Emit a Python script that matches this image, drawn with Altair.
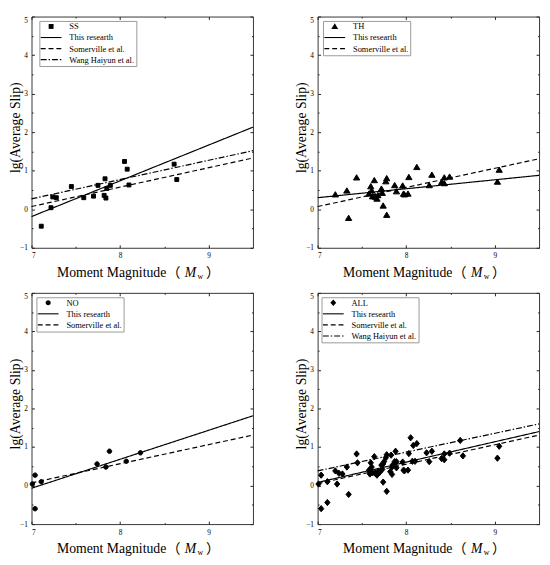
import math
import altair as alt
import pandas as pd

# ---------------- data ----------------
ss_x = [7.11, 7.22, 7.24, 7.28, 7.45, 7.59, 7.70, 7.75, 7.83, 7.82, 7.84, 7.85, 7.89, 8.05, 8.08, 8.10, 8.61, 8.64]
ss_y = [-0.44, 0.04, 0.32, 0.30, 0.59, 0.30, 0.34, 0.62, 0.79, 0.36, 0.29, 0.54, 0.62, 1.24, 1.04, 0.63, 1.17, 0.77]

th_x = [7.20, 7.33, 7.35, 7.44, 7.60, 7.61, 7.58, 7.62, 7.65, 7.67, 7.68, 7.64, 7.72, 7.73, 7.74, 7.77, 7.78,
        7.78, 7.87, 7.89, 7.96, 7.97, 7.98, 8.02, 8.03, 8.12, 8.26, 8.29, 8.40, 8.43, 8.43, 8.49, 9.05, 9.03]
th_y = [0.38, 0.48, -0.23, 0.82, 0.59, 0.48, 0.40, 0.33, 0.32, 0.27, 0.36, 0.75, 0.53, 0.42, 0.09, 0.72, 0.80,
        -0.15, 0.62, 0.46, 0.61, 0.40, 0.38, 0.40, 0.83, 1.09, 0.62, 0.89, 0.70, 0.82, 0.67, 0.84, 1.02, 0.71]

no_x = [7.01, 7.04, 7.04, 7.11, 7.74, 7.84, 7.88, 8.07, 8.23]
no_y = [0.04, 0.27, -0.60, 0.10, 0.56, 0.48, 0.89, 0.63, 0.85]

all_x = ss_x + th_x + no_x
all_y = ss_y + th_y + no_y

line_x = [7.0, 9.5]
# fitted lines: value at Mw = 7.0 and at Mw = 9.5
ss_lines = {"This researth": [-0.19, 2.13], "Somerville et al.": [0.07, 1.33], "Wang Haiyun et al.": [0.27, 1.52]}
th_lines = {"This researth": [0.30, 0.88], "Somerville et al.": [0.07, 1.31]}
no_lines = {"This researth": [-0.07, 1.81], "Somerville et al.": [0.07, 1.31]}
all_lines = {"This researth": [0.08, 1.40], "Somerville et al.": [0.05, 1.31], "Wang Haiyun et al.": [0.38, 1.60]}

x_major = [7, 8, 9]
x_minor = [7.5, 8.5]
y_major = [-1, 0, 1, 2, 3, 4, 5]
y_minor = [-0.5, 0.5, 1.5, 2.5, 3.5, 4.5]

# ---------------- styling ----------------
FONT = "Liberation Serif"
CJK = "Noto Sans CJK SC"
W, H = 226, 236

# marker paths for the plotted points (mark size 400 -> 1 unit = 10 px)
SHAPES = {
    "square": "M-0.2,-0.2H0.2V0.2H-0.2Z",
    "triangle": "M0,-0.3L0.32,0.24L-0.32,0.24Z",
    "circle": "M0.23,0A0.23,0.23,0,1,1,-0.23,0A0.23,0.23,0,1,1,0.23,0Z",
    "diamond": "M0,-0.32L0.27,0L0,0.32L-0.27,0Z",
}

# legend glyphs, drawn as filled paths (legend symbol size 60)
LEG_SIZE = 60
R = math.sqrt(LEG_SIZE) / 2.0  # px per path unit


def u(v):
    return round(v / R, 3)


def rects(intervals, half=0.55):
    return "".join(f"M{u(a)},{u(-half)}H{u(b)}V{u(half)}H{u(a)}Z" for a, b in intervals)


LEG_MARK = {
    "square": f"M{u(-2.5)},{u(-2.5)}H{u(2.5)}V{u(2.5)}H{u(-2.5)}Z",
    "triangle": f"M0,{u(-3.2)}L{u(3.5)},{u(2.6)}L{u(-3.5)},{u(2.6)}Z",
    "circle": f"M{u(2.6)},0A{u(2.6)},{u(2.6)},0,1,1,{u(-2.6)},0A{u(2.6)},{u(2.6)},0,1,1,{u(2.6)},0Z",
    "diamond": f"M0,{u(-3.4)}L{u(3)},0L0,{u(3.4)}L{u(-3)},0Z",
}
LEG_LINE = {
    "This researth": rects([(-10.6, 10.6)]),
    "Somerville et al.": rects([(-10.6, -5.6), (-2.6, 2.4), (5.4, 10.4)]),
    "Wang Haiyun et al.": rects([(-10.6, -4.6), (-2.6, -1.1), (0.9, 6.9), (8.9, 10.4)]),
}
DASH = {"This researth": [1, 0], "Somerville et al.": [5, 3], "Wang Haiyun et al.": [6, 2, 1.5, 2]}


def tick_axis(orient, values, size, **kw):
    base = dict(orient=orient, values=values, domain=False, grid=False, tickColor="#222222", tickWidth=1,
                tickSize=size, offset=-size, labels=False, title=None)
    base.update(kw)
    return alt.Axis(**base)


def panel(px, py, plabel, shape_key, lines, lx):
    labels = [plabel] + list(lines.keys())
    shape_range = [LEG_MARK[shape_key]] + [LEG_LINE[k] for k in lines]

    df_p = pd.DataFrame({"x": px, "y": py})
    df_key = pd.DataFrame({"label": labels})
    rows = []
    for k, (y0, y1) in lines.items():
        rows.append({"x": line_x[0], "y": y0, "label": k})
        rows.append({"x": line_x[1], "y": y1, "label": k})
    df_l = pd.DataFrame(rows)

    legend = alt.Legend(title=None, orient="none", legendX=lx, legendY=4.5,
                        symbolSize=LEG_SIZE, symbolStrokeWidth=0, symbolFillColor="black",
                        symbolOpacity=1, symbolOffset=6.4,
                        labelFont=FONT, labelFontSize=8.6, labelColor="black",
                        labelOffset=14.3, labelLimit=0, padding=1.3, rowPadding=2.3,
                        strokeColor="#999999", fillColor="white", cornerRadius=0)

    xs = alt.Scale(domain=[7, 9.5], nice=False, zero=False)
    ys = alt.Scale(domain=[-1, 5], nice=False, zero=False)

    lab = dict(labels=True, labelFont=FONT, labelFontSize=7.5, labelColor="black", labelPadding=4.2)

    lines_layer = alt.Chart(df_l).mark_line(color="black", strokeWidth=1.2).encode(
        x=alt.X("x:Q", scale=xs, axis=tick_axis("bottom", x_major, 3, **lab)),
        y=alt.Y("y:Q", scale=ys, axis=tick_axis(
            "left", y_major, 3, **lab,
            labelBaseline={"condition": {"test": "datum.value == 5", "value": "top"}, "value": "middle"},
            title="lg(Average Slip)", titleFont=FONT, titleFontSize=14, titleFontWeight="normal",
            titleColor="black", titleX=-12.5, titleY=H / 2 - 5, titleAngle=270, titleBaseline="bottom")),
        strokeDash=alt.StrokeDash("label:N", scale=alt.Scale(domain=list(lines.keys()),
                                                             range=[DASH[k] for k in lines]), legend=None),
    )

    points_layer = alt.Chart(df_p).mark_point(filled=True, shape=SHAPES[shape_key], size=400,
                                              color="black", stroke="black", strokeWidth=1,
                                              opacity=1).encode(
        x=alt.X("x:Q", scale=xs, axis=tick_axis("top", x_major, 3)),
        y=alt.Y("y:Q", scale=ys, axis=tick_axis("right", y_major, 3)),
    )

    minor_a = alt.Chart(df_p).mark_point(opacity=0).encode(
        x=alt.X("x:Q", scale=xs, axis=tick_axis("bottom", x_minor, 1.5)),
        y=alt.Y("y:Q", scale=ys, axis=tick_axis("left", y_minor, 1.5)),
    )
    minor_b = alt.Chart(df_p).mark_point(opacity=0).encode(
        x=alt.X("x:Q", scale=xs, axis=tick_axis("top", x_minor, 1.5)),
        y=alt.Y("y:Q", scale=ys, axis=tick_axis("right", y_minor, 1.5)),
    )

    # legend carrier: invisible keys, one per legend entry
    key_layer = alt.Chart(df_key).mark_point(filled=True, color="black", opacity=0).encode(
        x=alt.value(0), y=alt.value(0),
        shape=alt.Shape("label:N", scale=alt.Scale(domain=labels, range=shape_range), legend=legend),
    )

    one = pd.DataFrame({"k": [0]})

    def txt(s, x, y, size=14, font=FONT, style="normal"):
        return alt.Chart(one).mark_text(text=s, align="left", baseline="alphabetic", font=font,
                                        fontSize=size, fontStyle=style, color="black").encode(
            x=alt.value(x), y=alt.value(y))

    base_y = H + 29.5
    title_layers = [
        txt("Moment Magnitude", 26, base_y),
        txt("（", 138, base_y, font=CJK),
        txt("M", 156.5, base_y, style="italic"),
        txt("w", 169.5, base_y + 2.5, size=8),
        txt("）", 178, base_y, font=CJK),
    ]

    # invisible rule fixing the panel's lower bound below the axis title
    spacer = alt.Chart(one).mark_rule(opacity=0, strokeWidth=1).encode(
        x=alt.value(30), x2=alt.value(150), y=alt.value(H + 33.5))

    return alt.layer(key_layer, points_layer, lines_layer, minor_a, minor_b, *title_layers, spacer).resolve_axis(
        x="independent", y="independent").properties(width=W, height=H)


p1 = panel(ss_x, ss_y, "SS", "square", ss_lines, 8)
p2 = panel(th_x, th_y, "TH", "triangle", th_lines, 5.5)
p3 = panel(no_x, no_y, "NO", "circle", no_lines, 5)
p4 = panel(all_x, all_y, "ALL", "diamond", all_lines, 4)

RS = dict(shape="independent", strokeDash="independent")

row1 = alt.hconcat(p1, p2, spacing=39).resolve_scale(**RS).resolve_legend(**RS)
row2 = alt.hconcat(p3, p4, spacing=39).resolve_scale(**RS).resolve_legend(**RS)

chart = alt.vconcat(row1, row2, spacing=8).resolve_scale(**RS).resolve_legend(**RS).properties(
    padding={"left": 0, "top": 0, "right": 0, "bottom": 0},
    background="white",
).configure_view(stroke="#333333", strokeWidth=1)

chart.save("out.html", embed_options={"renderer": "svg", "actions": False})
